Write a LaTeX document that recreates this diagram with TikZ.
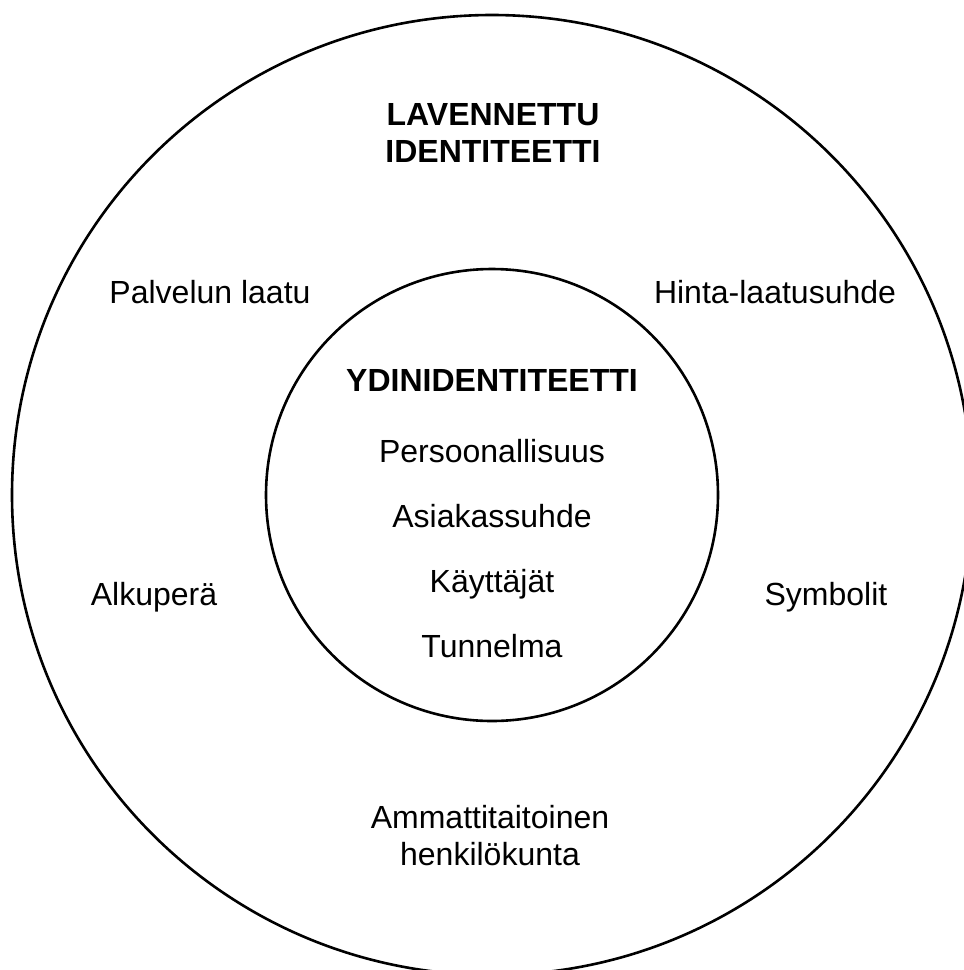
\documentclass[tikz,border=0pt]{standalone}
\usepackage{fontspec}
\setmainfont{Liberation Sans}
\begin{document}
\begin{tikzpicture}[x=1pt,y=-1pt,
  ring/.style={draw=black,line width=2.6pt},
  lbl/.style={inner sep=0pt,anchor=base,font=\fontsize{32}{37}\selectfont,align=center},
  head/.style={lbl,font=\fontsize{32}{37}\selectfont\bfseries}]
\useasboundingbox (0,0) rectangle (964,970);
\clip (0,0) rectangle (964,970);
\fill[white] (0,0) rectangle (964,970);
\draw[ring] (492,495) circle[radius=480];
\draw[ring] (492,495) circle[radius=226];
\node[head] (lav) at (493,162) {LAVENNETTU\\IDENTITEETTI};
\node[lbl] (pal) at (210,303) {Palvelun laatu};
\node[lbl] (hin) at (775,303) {Hinta-laatusuhde};
\node[lbl] (alk) at (154,605) {Alkuperä};
\node[lbl] (sym) at (826,605) {Symbolit};
\node[lbl] (amm) at (490,865) {Ammattitaitoinen\\henkilökunta};
\node[head] (ydin) at (492,391) {YDINIDENTITEETTI};
\node[lbl] (per) at (492,462) {Persoonallisuus};
\node[lbl] (asi) at (492,527) {Asiakassuhde};
\node[lbl] (kay) at (492,592) {Käyttäjät};
\node[lbl] (tun) at (492,657) {Tunnelma};
\end{tikzpicture}
\end{document}
